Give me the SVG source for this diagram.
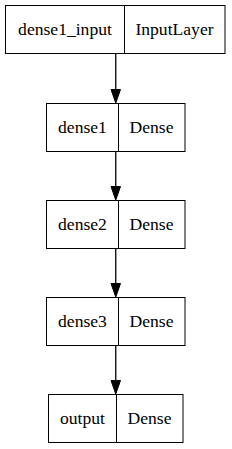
<svg xmlns="http://www.w3.org/2000/svg" width="232" height="449" viewBox="0 0 232 449">
<defs>
<style>
.box{fill:#fff;stroke:#000;stroke-width:1}
.sep{stroke:#000;stroke-width:1;fill:none}
.lbl{font-size:17.6px;fill:#000;text-anchor:middle}
.edge{stroke:#000;stroke-width:1.3;fill:none}
.head{fill:#000;stroke:#000;stroke-width:1}
</style>
</defs>
<rect width="232" height="449" fill="#fff"/>
<g id="connectors">
<line class="edge" x1="115.75" y1="53.5" x2="115.75" y2="89.5"/>
<polygon class="head" points="111,89.5 120.5,89.5 115.75,103"/>
<line class="edge" x1="115.75" y1="151.5" x2="115.75" y2="186.5"/>
<polygon class="head" points="111,186.5 120.5,186.5 115.75,200"/>
<line class="edge" x1="115.75" y1="248.5" x2="115.75" y2="283.5"/>
<polygon class="head" points="111,283.5 120.5,283.5 115.75,297"/>
<line class="edge" x1="115.75" y1="345.5" x2="115.75" y2="380.5"/>
<polygon class="head" points="111,380.5 120.5,380.5 115.75,394"/>
</g>
<g font-family="'Liberation Serif', 'DejaVu Serif', serif">
<g id="dense1_input">
<rect class="box" x="5.5" y="5.5" width="219.5" height="48"/>
<line class="sep" x1="124.5" y1="5.5" x2="124.5" y2="53.5"/>
<text class="lbl" x="65" y="35">dense1_input</text>
<text class="lbl" x="174.5" y="35">InputLayer</text>
</g>
<g id="dense1">
<rect class="box" x="46.5" y="103.5" width="138.5" height="48"/>
<line class="sep" x1="118.5" y1="103.5" x2="118.5" y2="151.5"/>
<text class="lbl" x="82.5" y="132.5">dense1</text>
<text class="lbl" x="151.5" y="132.5">Dense</text>
</g>
<g id="dense2">
<rect class="box" x="46.5" y="200.5" width="138.5" height="48"/>
<line class="sep" x1="118.5" y1="200.5" x2="118.5" y2="248.5"/>
<text class="lbl" x="82.5" y="229.5">dense2</text>
<text class="lbl" x="151.5" y="229.5">Dense</text>
</g>
<g id="dense3">
<rect class="box" x="46.5" y="297.5" width="138.5" height="48"/>
<line class="sep" x1="118.5" y1="297.5" x2="118.5" y2="345.5"/>
<text class="lbl" x="82.5" y="326.5">dense3</text>
<text class="lbl" x="151.5" y="326.5">Dense</text>
</g>
<g id="output">
<rect class="box" x="48.5" y="394.5" width="134.5" height="48"/>
<line class="sep" x1="116.5" y1="394.5" x2="116.5" y2="442.5"/>
<text class="lbl" x="82.5" y="423.5">output</text>
<text class="lbl" x="149.5" y="423.5">Dense</text>
</g>
</g>
</svg>
